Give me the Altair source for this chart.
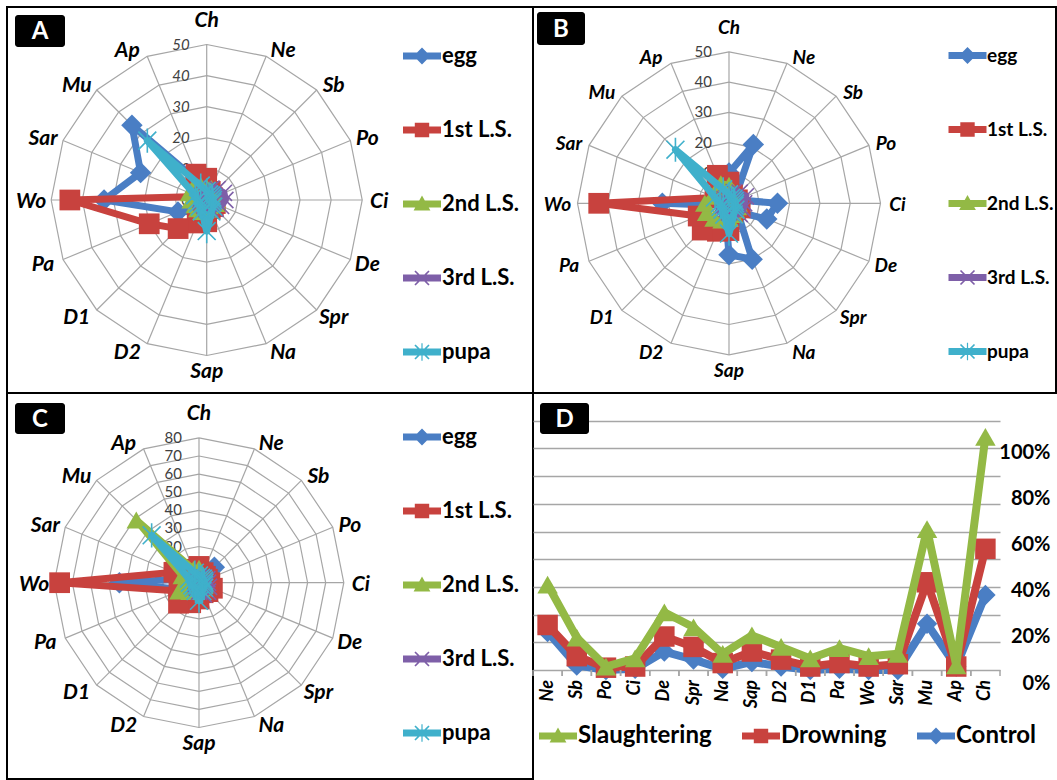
import altair as alt
import numpy as np
import pandas as pd

# ---------------- data ----------------
CATS = ["Ch", "Ne", "Sb", "Po", "Ci", "De", "Spr", "Na", "Sap", "D2", "D1", "Pa", "Wo", "Sar", "Mu", "Ap"]
STAGES = ["egg", "1st L.S.", "2nd L.S.", "3rd L.S.", "pupa"]

# Panel A (0-50)
A_EGG = [3, 1, 1, 1, 1, 1, 1, 1, 2, 3, 5, 10, 33, 23, 34, 6]
A_1ST = [7, 3, 2, 2, 2, 3, 3, 3, 7, 8, 13, 20, 44, 3, 3, 9]
A_2ND = [4, 4, 3, 3, 3, 3, 2, 2, 3, 4, 4, 4, 5, 6, 6, 5]
A_3RD = [3, 4, 5, 6, 6, 5, 4, 3, 3, 2, 2, 2, 2, 2, 2, 2]
A_PUPA = [3, 2, 2, 2, 2, 2, 3, 4, 10, 4, 3, 3, 3, 4, 27, 5]

# Panel B (0-50)
B_EGG = [10, 21, 3, 3, 16, 13.5, 4, 20, 17, 3, 2, 2, 22, 3, 2, 3]
B_1ST = [7, 3, 2, 3, 3, 4, 3, 3, 9, 10, 12.5, 11, 43, 5, 4, 10]
B_2ND = [6, 4, 3, 3, 3, 3, 3, 4, 5, 6, 7, 8, 8, 6, 6, 7]
B_3RD = [3, 4, 5, 6, 5, 5, 5, 4, 3, 2, 2, 2, 2, 2, 2, 2]
B_PUPA = [3, 2, 2, 2, 2, 2, 3, 4, 10, 4, 3, 3, 3, 5, 25, 5]

# Panel C (0-80)
C_EGG = [5, 8, 12, 4, 3, 3, 3, 3, 4, 4, 5, 10, 44, 6, 5, 5]
C_1ST = [9, 6, 5, 5, 6, 8, 7, 6, 9, 12, 16, 12, 77, 15, 8, 8]
C_2ND = [8, 4, 3, 3, 3, 3, 3, 3, 4, 5, 7, 12, 8, 10, 49, 8]
C_3RD = [3, 3, 4, 5, 5, 6, 7, 7, 5, 3, 3, 2, 2, 2, 2, 2]
C_PUPA = [4, 3, 3, 3, 3, 3, 4, 5, 10, 5, 4, 4, 5, 6, 37, 6]

# Panel D
D_CATS = ["Ne", "Sb", "Po", "Ci", "De", "Spr", "Na", "Sap", "D2", "D1", "Pa", "Wo", "Sar", "Mu", "Ap", "Ch"]
D_SERIES = ["Slaughtering", "Drowning", "Control"]
D_SLAUGHTER = [37, 14, 1.5, 5, 25, 18.5, 7, 15, 10, 5, 9.5, 6, 7, 61, 2, 101]
D_DROWNING = [19.5, 6, 1, 1.5, 14.5, 10, 3, 8, 4.5, 1.5, 3, 1.5, 2.5, 38, 1.5, 52.5]
D_CONTROL = [16.5, 2, 0, 0.5, 8, 4.5, 0.5, 3.5, 1.5, 0, 0.5, 0, 0, 20, 1.5, 32.5]
D_LABELS = [0, 20, 40, 60, 80, 100]
D_GRID = [0, 12, 24, 36, 48, 60, 72, 84, 96, 108]

# ---------------- styles ----------------
GRID_C = "#A6A6A6"
STAGE_COLORS = ["#4A7EC4", "#C8423E", "#93B945", "#7E5FA8", "#3FB0CB"]
X_PATH = "M-1,-1L1,1M1,-1L-1,1"
AST_PATH = "M-1,-1L1,1M1,-1L-1,1M0,-1.35L0,1.35"
STAGE_SHAPES = ["diamond", "square", "triangle-up", X_PATH, AST_PATH]
STAGE_SIZES = [460, 430, 380, 260, 320]

BAR = "M-4.75,-0.85L4.75,-0.85L4.75,0.85L-4.75,0.85Z"
LEG_DIAMOND = BAR + "M0,-2.1L2.1,0L0,2.1L-2.1,0Z"
LEG_SQUARE = BAR + "M-1.8,-1.8L1.8,-1.8L1.8,1.8L-1.8,1.8Z"
LEG_TRI = BAR + "M0,-2.1L2.1,1.6L-2.1,1.6Z"
LEG_X = BAR + "M-1.9,-1.6L-1.6,-1.9L1.9,1.6L1.6,1.9ZM1.6,-1.9L1.9,-1.6L-1.6,1.9L-1.9,1.6Z"
LEG_AST = LEG_X + "M-0.15,-2.2L0.15,-2.2L0.15,2.2L-0.15,2.2Z"
LEG_PATHS = [LEG_DIAMOND, LEG_SQUARE, LEG_TRI, LEG_X, LEG_AST]

FONT = "Lato"


def label_box(letter, box):
    df = pd.DataFrame({"t": [letter]})
    rect = alt.Chart(df).mark_rect(color="black", cornerRadius=3).encode(
        x=alt.value(box[0]), x2=alt.value(box[1]), y=alt.value(box[2]), y2=alt.value(box[3]))
    txt = alt.Chart(df).mark_text(color="white", font=FONT, fontWeight="bold", fontSize=24).encode(
        x=alt.value((box[0] + box[1]) / 2), y=alt.value((box[2] + box[3]) / 2 + 1), text="t:N")
    return [rect, txt]


def radar_panel(series, rmax, cx, cy, ppu, w, h, letter, box, leg, num_italic, cat_size):
    n = len(CATS)
    ang = [2 * np.pi * i / n for i in range(n)]
    xs = alt.Scale(domain=[-cx / ppu, (w - cx) / ppu], nice=False, zero=False)
    ys = alt.Scale(domain=[-(h - cy) / ppu, cy / ppu], nice=False, zero=False)

    def XE(f):
        return alt.X(f, type="quantitative", scale=xs, axis=None)

    def YE(f):
        return alt.Y(f, type="quantitative", scale=ys, axis=None)

    rows = []
    for v in range(10, rmax + 10, 10):
        for k in range(n + 1):
            a = ang[k % n]
            rows.append({"ring": v, "k": k, "x": v * np.sin(a), "y": v * np.cos(a)})
    rings = alt.Chart(pd.DataFrame(rows)).mark_line(color=GRID_C, strokeWidth=1.2).encode(
        x=XE("x"), y=YE("y"), detail="ring:N", order="k:Q")

    spk = pd.DataFrame({"x0": [0.0] * n, "y0": [0.0] * n,
                        "x1": [rmax * np.sin(a) for a in ang], "y1": [rmax * np.cos(a) for a in ang]})
    spokes = alt.Chart(spk).mark_rule(color=GRID_C, strokeWidth=1.2).encode(
        x=XE("x0"), y=YE("y0"), x2="x1:Q", y2="y1:Q")

    ticks = list(range(0, rmax + 10, 10))
    tdf = pd.DataFrame({"x": [0.0] * len(ticks), "y": [float(t) for t in ticks], "t": [str(t) for t in ticks]})
    tick_text = alt.Chart(tdf).mark_text(
        align="right", baseline="middle", dx=-17, fontSize=15, font=FONT, color="#404040",
        fontStyle="italic" if num_italic else "normal").encode(x=XE("x"), y=YE("y"), text="t:N")

    # category labels sit just outside the outer ring vertex
    lx, ly = [], []
    for a in ang:
        s, c = np.sin(a), np.cos(a)
        if abs(s) < 0.1:
            dx_px, dy_px = 0.0, -c * 20 - 4
        else:
            dx_px = 17 * np.clip(s * 2.6, -1, 1) if s > 0 else 20 * np.clip(s * 2.6, -1, 1)
            dy_px = -c * 8 + 2
        lx.append(rmax * s + dx_px / ppu)
        ly.append(rmax * c - dy_px / ppu)
    cdf = pd.DataFrame({"c": CATS, "x": lx, "y": ly})
    cat_text = alt.Chart(cdf).mark_text(
        fontSize=cat_size, font=FONT, fontWeight="bold", fontStyle="italic", color="black",
        baseline="middle", align="center").encode(x=XE("x"), y=YE("y"), text="c:N")

    layers = [rings, spokes, tick_text, cat_text]
    for s, vals in enumerate(series):
        r = []
        for k in range(n + 1):
            a = ang[k % n]
            v = vals[k % n]
            r.append({"k": k, "x": v * np.sin(a), "y": v * np.cos(a)})
        df = pd.DataFrame(r)
        line = alt.Chart(df).mark_line(color=STAGE_COLORS[s], strokeWidth=7, strokeJoin="round").encode(
            x=XE("x"), y=YE("y"), order="k:Q")
        pdf = df[df["k"] < n]
        if s < 3:
            pts = alt.Chart(pdf).mark_point(shape=STAGE_SHAPES[s], filled=True, opacity=1,
                                            color=STAGE_COLORS[s], size=STAGE_SIZES[s])
        else:
            pts = alt.Chart(pdf).mark_point(shape=STAGE_SHAPES[s], filled=False, opacity=1,
                                            color=STAGE_COLORS[s], size=STAGE_SIZES[s], strokeWidth=1.6)
        layers += [line, pts.encode(x=XE("x"), y=YE("y"))]

    lg = alt.Legend(title=None, orient="none", legendX=leg[0], legendY=leg[1], direction="vertical",
                    symbolSize=64, symbolStrokeWidth=0, labelFont=FONT, labelFontWeight="bold",
                    labelFontSize=leg[2], labelColor="black", labelOffset=leg[3], rowPadding=leg[4],
                    labelLimit=0)
    legend_layer = alt.Chart(pd.DataFrame({"s": STAGES})).transform_filter("false").mark_point(
        filled=True, opacity=1).encode(
        color=alt.Color("s:N", scale=alt.Scale(domain=STAGES, range=STAGE_COLORS), legend=lg),
        shape=alt.Shape("s:N", scale=alt.Scale(domain=STAGES, range=LEG_PATHS), legend=lg))
    layers.append(legend_layer)
    layers += label_box(letter, box)
    return alt.layer(*layers).properties(
        width=w, height=h, view=alt.ViewBackground(stroke="black", strokeWidth=2, fill="white"))


# legend: (legendX, legendY, fontSize, labelOffset, rowPadding)
panel_a = radar_panel([A_EGG, A_1ST, A_2ND, A_3RD, A_PUPA], 50, 199.7, 193, 3.11, 526, 386, "A",
                      (8, 58, 8, 40), (404, 38, 22, 9, 52), True, 21)
panel_b = radar_panel([B_EGG, B_1ST, B_2ND, B_3RD, B_PUPA], 50, 196, 196.3, 3.03, 523, 386, "B",
                      (4, 52, 5, 38), (425, 39, 19, 10, 54), False, 19)
panel_c = radar_panel([C_EGG, C_1ST, C_2ND, C_3RD, C_PUPA], 80, 192, 189.7, 1.81, 526, 386, "C",
                      (8, 58, 10, 41), (404, 33, 22, 9, 52), False, 21)

# ---------------- panel D ----------------
D_COLORS = ["#93B945", "#C8423E", "#4A7EC4"]
D_SHAPES = ["triangle-up", "square", "diamond"]
D_LEG_PATHS = [LEG_TRI, LEG_SQUARE, LEG_DIAMOND]
rows = []
for sname, vals in zip(D_SERIES, [D_SLAUGHTER, D_DROWNING, D_CONTROL]):
    for c, v in zip(D_CATS, vals):
        rows.append({"series": sname, "cat": c, "value": v})
dfd = pd.DataFrame(rows)

DW, DH = 467, 277
dxs = alt.Scale(type="band", domain=D_CATS, paddingInner=0, paddingOuter=0)
dys = alt.Scale(domain=[0, 120], nice=False, zero=False)

grid_axis = alt.Axis(orient="left", values=D_GRID, labels=False, ticks=False, domain=False, grid=True,
                     gridColor=GRID_C, gridWidth=1.5, title=None)
right_axis = alt.Axis(orient="right", values=D_LABELS, labelExpr="datum.value + '%'", labelOffset=13,
                      labelAlign="right", labelPadding=50, ticks=False, domain=False, grid=False, title=None,
                      labelFont=FONT, labelFontWeight="bold", labelFontSize=20, labelColor="black")

cat_df = pd.DataFrame({"cat": D_CATS})
tick_lo = alt.Chart(cat_df).mark_rule(color=GRID_C, strokeWidth=1.5).encode(
    x=alt.X("cat:N", sort=D_CATS, scale=dxs, axis=None, bandPosition=0),
    y=alt.value(DH), y2=alt.value(DH + 6))
tick_hi = alt.Chart(cat_df).mark_rule(color=GRID_C, strokeWidth=1.5).encode(
    x=alt.X("cat:N", sort=D_CATS, scale=dxs, axis=None, bandPosition=1),
    y=alt.value(DH), y2=alt.value(DH + 6))
cat_labels = alt.Chart(cat_df).mark_text(
    angle=270, align="right", baseline="middle", font=FONT, fontWeight="bold", fontStyle="italic",
    fontSize=18, color="black").encode(
    x=alt.X("cat:N", sort=D_CATS, scale=dxs, axis=None), y=alt.value(DH + 10), text="cat:N")

d_layers = []
order = [2, 1, 0]  # Control at the bottom, Slaughtering on top
first = True
for i in order:
    sname = D_SERIES[i]
    sub = alt.Chart(dfd).transform_filter(alt.datum.series == sname)
    line = sub.mark_line(color=D_COLORS[i], strokeWidth=8, strokeJoin="round").encode(
        x=alt.X("cat:N", sort=D_CATS, scale=dxs, axis=None),
        y=alt.Y("value:Q", scale=dys, axis=grid_axis if first else None))
    pts = sub.mark_point(shape=D_SHAPES[i], filled=True, opacity=1, color=D_COLORS[i], size=420).encode(
        x=alt.X("cat:N", sort=D_CATS, scale=dxs, axis=None),
        y=alt.Y("value:Q", scale=dys, axis=right_axis if first else None))
    d_layers += [line, pts]
    first = False

dleg = alt.Legend(title=None, orient="none", legendX=13, legendY=331, direction="horizontal",
                  symbolSize=64, symbolStrokeWidth=0, labelFont=FONT, labelFontWeight="bold",
                  labelFontSize=24, labelColor="black", labelOffset=8, columnPadding=30, labelLimit=0)
d_legend_layer = alt.Chart(pd.DataFrame({"s": D_SERIES})).transform_filter("false").mark_point(
    filled=True, opacity=1).encode(
    color=alt.Color("s:N", scale=alt.Scale(domain=D_SERIES, range=D_COLORS), legend=dleg),
    shape=alt.Shape("s:N", scale=alt.Scale(domain=D_SERIES, range=D_LEG_PATHS), legend=dleg))

panel_d = alt.layer(*(d_layers + [tick_lo, tick_hi, cat_labels, d_legend_layer] +
                      label_box("D", (7, 56, 10, 41)))).resolve_axis(y="independent").properties(
    width=DW, height=DH)

chart = alt.concat(panel_a, panel_b, panel_c, panel_d, columns=2, spacing=0).properties(
    bounds="flush", align="each", padding={"left": 6, "top": 6, "right": 0, "bottom": 0}
).resolve_scale(color="independent", shape="independent").resolve_legend(
    color="independent", shape="independent"
).configure(background="white").configure_view(strokeWidth=0)

chart.save("out.html", embed_options={"renderer": "svg", "actions": False})
